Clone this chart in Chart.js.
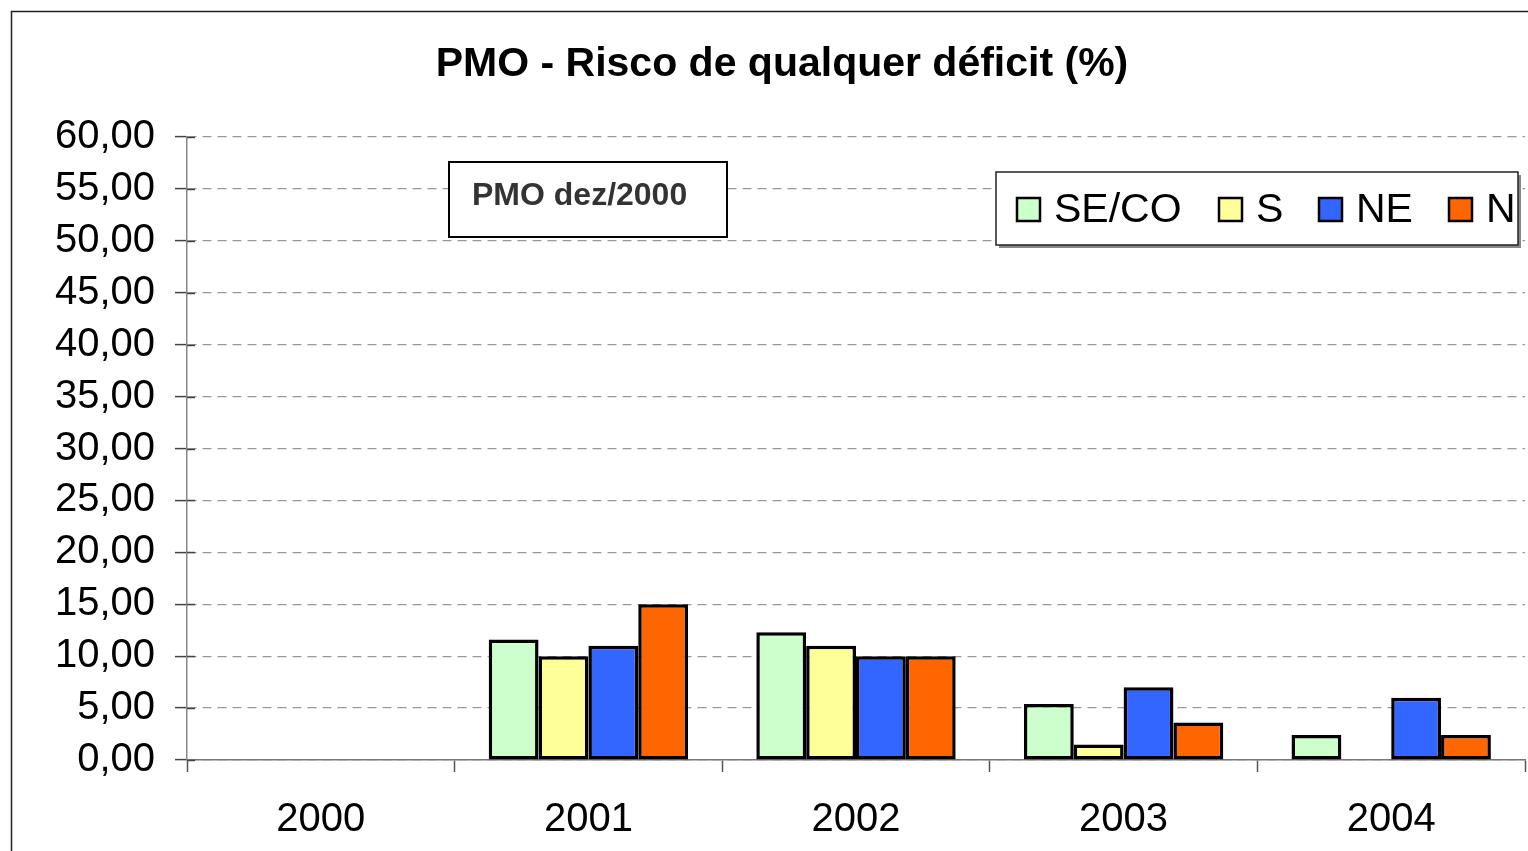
<!DOCTYPE html>
<html>
<head>
<meta charset="utf-8">
<script src="https://cdn.jsdelivr.net/npm/chart.js@4"></script>
<style>
  html, body { margin: 0; padding: 0; background: #fff; }
  #wrap { width: 1528px; height: 851px; }
</style>
</head>
<body>
<div id="wrap"><canvas id="c" width="1528" height="851"></canvas></div>
<script>
// Risco de qualquer déficit (%) por subsistema, PMO dez/2000
const YEARS = ["2000", "2001", "2002", "2003", "2004"];
const SE_CO = [0, 11.6, 12.3, 5.4, 2.4];
const S = [0, 10.0, 11.0, 1.5, 0];
const NE = [0, 11.0, 10.0, 7.0, 6.0];
const N = [0, 15.0, 10.0, 3.6, 2.4];
const SERIES = ["SE/CO", "S", "NE", "N"];
const COLORS = ["#ccffcc", "#ffff99", "#3366ff", "#ff6600"];

const FONT = "'Liberation Sans', Arial, sans-serif";

const frame = {
  id: "frame",
  beforeDraw(chart) {
    const ctx = chart.ctx;
    ctx.save();
    ctx.fillStyle = "#fff";
    ctx.fillRect(0, 0, chart.width, chart.height);
    ctx.strokeStyle = "#222";
    ctx.lineWidth = 1.5;
    ctx.strokeRect(11.5, 11.5, 1700, 1000);
    ctx.restore();
  },
  afterDatasetsDraw(chart) {
    // inner half of the crossing y tick marks
    const ctx = chart.ctx, y = chart.scales.y, left = chart.chartArea.left;
    ctx.save();
    ctx.strokeStyle = "#444";
    ctx.lineWidth = 1.5;
    y.ticks.forEach(t => {
      const py = Math.round(y.getPixelForValue(t.value)) + 0.5;
      ctx.beginPath();
      ctx.moveTo(left, py);
      ctx.lineTo(left + 8, py);
      ctx.stroke();
    });
    ctx.restore();
  },
  afterDraw(chart) {
    const ctx = chart.ctx;
    ctx.save();
    // title
    ctx.fillStyle = "#000";
    ctx.font = "bold 41px " + FONT;
    ctx.textAlign = "center";
    ctx.textBaseline = "alphabetic";
    ctx.fillText("PMO - Risco de qualquer déficit (%)", 782, 76);

    // annotation box
    ctx.fillStyle = "#fff";
    ctx.fillRect(449, 162, 278, 75);
    ctx.strokeStyle = "#000";
    ctx.lineWidth = 2;
    ctx.strokeRect(449, 162, 278, 75);
    ctx.fillStyle = "#333";
    ctx.font = "bold 32px " + FONT;
    ctx.textAlign = "left";
    ctx.fillText("PMO dez/2000", 472, 205);

    // legend box
    ctx.fillStyle = "#888";
    ctx.fillRect(999, 175, 522, 73);
    ctx.fillStyle = "#fff";
    ctx.fillRect(996, 172, 522, 73);
    ctx.strokeStyle = "#222";
    ctx.lineWidth = 1.5;
    ctx.strokeRect(996, 172, 522, 73);
    const mx = [1017, 1219, 1319, 1449];
    ctx.font = "41px " + FONT;
    chart.data.datasets.forEach((ds, i) => {
      ctx.fillStyle = ds.backgroundColor;
      ctx.fillRect(mx[i], 198, 23, 23);
      ctx.strokeStyle = "#000";
      ctx.lineWidth = 2.5;
      ctx.strokeRect(mx[i], 198, 23, 23);
      ctx.fillStyle = "#000";
      ctx.fillText(ds.label, mx[i] + 37, 222);
    });
    ctx.restore();
  }
};

new Chart(document.getElementById("c"), {
  type: "bar",
  data: {
    labels: YEARS,
    datasets: [SE_CO, S, NE, N].map((d, i) => ({
      label: SERIES[i],
      data: d,
      backgroundColor: COLORS[i],
      borderColor: "#000",
      borderWidth: 3.5,
      borderSkipped: false,
      categoryPercentage: 0.745,
      barPercentage: 1.0
    }))
  },
  options: {
    responsive: false,
    animation: false,
    events: [],
    layout: { padding: { left: 0, top: 137, right: 3, bottom: 0 } },
    plugins: { legend: { display: false }, title: { display: false }, tooltip: { enabled: false } },
    scales: {
      x: {
        afterFit(s) { s.height = 91; },
        grid: { drawOnChartArea: false, drawTicks: true, tickLength: 12, tickColor: "#555", tickWidth: 1.5 },
        border: { color: "#777", width: 1.5 },
        ticks: { color: "#000", font: { family: FONT, size: 40 }, padding: 24, maxRotation: 0 }
      },
      y: {
        min: 0, max: 60,
        afterFit(s) { s.width = 187; },
        grid: { color: "#999", lineWidth: 1.2, tickLength: 12, tickColor: "#444", tickWidth: 1.5, tickBorderDash: [] },
        border: { color: "#888", width: 1.5, dash: [9, 6] },
        ticks: {
          stepSize: 5, color: "#000", padding: 20,
          font: { family: FONT, size: 40 },
          callback: v => v.toFixed(2).replace(".", ",")
        }
      }
    }
  },
  plugins: [frame]
});
</script>
</body>
</html>
